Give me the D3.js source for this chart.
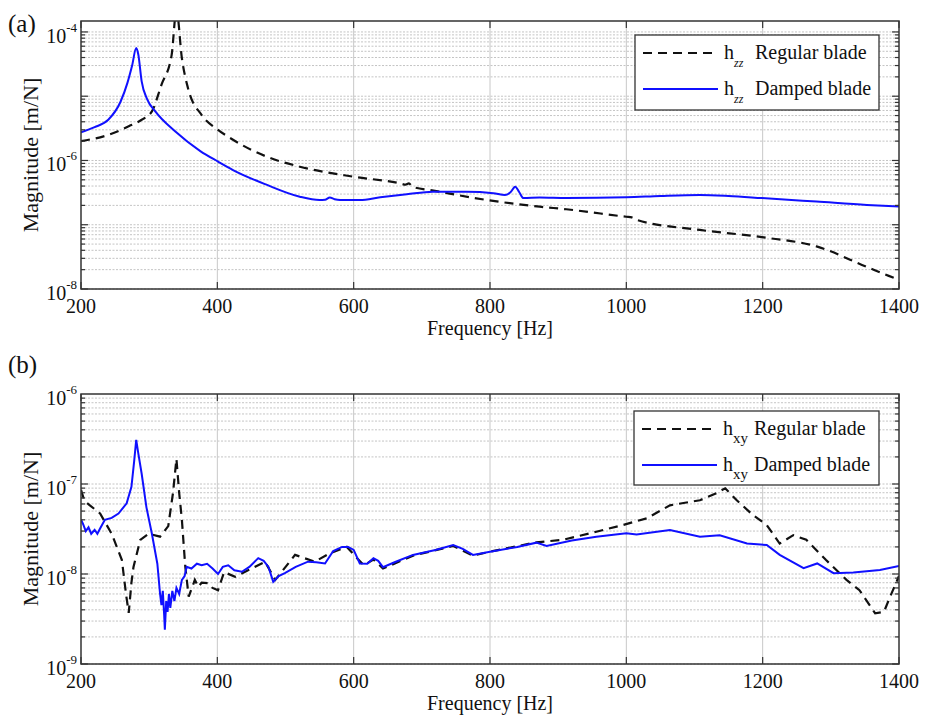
<!DOCTYPE html>
<html>
<head>
<meta charset="utf-8">
<script src="https://cdn.jsdelivr.net/npm/d3@7"></script>
<style>
  body { margin: 0; background: #fff; }
</style>
</head>
<body>
<svg width="925" height="719" font-family="'Liberation Serif', 'Times New Roman', 'DejaVu Serif', serif"></svg>
<script>
// x ticks shared by both panels
var freqTicks = [200, 400, 600, 800, 1000, 1200, 1400];

// (a) h_zz
var zzRegular = [[200,2.0e-6],[240,2.5e-6],[270,3.4e-6],[289,4.3e-6],[304,5.8e-6],[318,1.5e-5],[333,4.4e-5],[340,2.2e-4],[348,3.9e-5],[357,1.33e-5],[377,5.1e-6],[401,3.0e-6],[423,2.1e-6],[472,1.15e-6],[521,8.0e-7],[599,5.6e-7],[668,4.4e-7],[676,4.2e-7],[681,4.4e-7],[686,3.9e-7],[717,3.4e-7],[795,2.43e-7],[873,1.91e-7],[912,1.74e-7],[1000,1.33e-7],[1008,1.3e-7],[1015,1.19e-7],[1108,8.3e-8],[1199,6.4e-8],[1279,4.6e-8],[1353,2.2e-8],[1385,1.6e-8],[1400,1.4e-8]];
var zzDamped = [[200,2.75e-6],[220,3.3e-6],[240,4.3e-6],[258,8.2e-6],[268,1.6e-5],[275,3.0e-5],[281,5.6e-5],[284,4.5e-5],[289,1.7e-5],[297,9e-6],[309,5.8e-6],[338,2.84e-6],[375,1.4e-6],[401,9.6e-7],[423,7.1e-7],[472,4.2e-7],[521,2.73e-7],[550,2.43e-7],[558,2.45e-7],[565,2.65e-7],[572,2.5e-7],[580,2.43e-7],[609,2.43e-7],[639,2.67e-7],[678,2.98e-7],[716,3.27e-7],[766,3.27e-7],[805,3.1e-7],[822,2.9e-7],[830,3.2e-7],[837,3.9e-7],[843,3.2e-7],[849,2.6e-7],[873,2.65e-7],[912,2.6e-7],[1000,2.67e-7],[1050,2.8e-7],[1108,2.9e-7],[1150,2.8e-7],[1199,2.6e-7],[1279,2.29e-7],[1353,2.03e-7],[1400,1.92e-7]];
var zzExpTicks = [-4, -6, -8];

// (b) h_xy
var xyRegular = [[200,8.6e-8],[205,6.5e-8],[213,5.8e-8],[228,4.7e-8],[245,2.8e-8],[260,1.43e-8],[266,6e-9],[270,3.7e-9],[274,8e-9],[277,1.2e-8],[287,2.4e-8],[299,2.8e-8],[316,2.6e-8],[328,3.4e-8],[335,8e-8],[340,1.9e-7],[344,8e-8],[348,4e-8],[353,1.2e-8],[358,5.6e-9],[367,8.6e-9],[372,7.2e-9],[377,8.0e-9],[387,7.9e-9],[393,7.0e-9],[401,6.6e-9],[410,1.05e-8],[426,9.3e-9],[445,1.1e-8],[470,1.37e-8],[485,8.6e-9],[514,1.63e-8],[543,1.37e-8],[565,1.7e-8],[590,2.0e-8],[605,1.5e-8],[615,1.25e-8],[629,1.45e-8],[643,1.15e-8],[687,1.6e-8],[746,2.05e-8],[775,1.6e-8],[800,1.77e-8],[868,2.25e-8],[907,2.4e-8],[956,2.95e-8],[995,3.5e-8],[1030,4.16e-8],[1064,5.8e-8],[1108,6.6e-8],[1132,7.9e-8],[1145,8.95e-8],[1162,6.6e-8],[1186,4.5e-8],[1206,3.5e-8],[1225,2.18e-8],[1245,2.7e-8],[1264,2.4e-8],[1293,1.43e-8],[1323,8.6e-9],[1342,6.6e-9],[1365,3.66e-9],[1378,3.8e-9],[1387,5.6e-9],[1400,9.5e-9]];
var xyDamped = [[200,4.0e-8],[203,3.6e-8],[207,3.0e-8],[211,3.3e-8],[215,2.8e-8],[220,3.1e-8],[224,2.8e-8],[228,3.2e-8],[235,4.0e-8],[245,4.2e-8],[255,4.7e-8],[267,6.1e-8],[274,9.3e-8],[278,1.8e-7],[281,3.1e-7],[284,2.2e-7],[289,1.3e-7],[296,5.5e-8],[304,2.8e-8],[312,1.3e-8],[316,6.0e-9],[318,4.5e-9],[320,6.5e-9],[322,3.5e-9],[323,2.4e-9],[325,5.0e-9],[327,3.8e-9],[329,6.0e-9],[331,4.2e-9],[334,6.5e-9],[337,5.0e-9],[340,7.0e-9],[344,6.0e-9],[348,8.6e-9],[352,9.5e-9],[355,1.2e-8],[362,1.15e-8],[370,1.3e-8],[377,1.25e-8],[385,1.3e-8],[393,1.15e-8],[401,1.0e-8],[408,1.2e-8],[416,1.25e-8],[425,1.1e-8],[436,1.06e-8],[447,1.2e-8],[460,1.5e-8],[468,1.4e-8],[475,1.2e-8],[482,8.2e-9],[490,9.5e-9],[499,1.02e-8],[515,1.2e-8],[533,1.37e-8],[545,1.35e-8],[558,1.31e-8],[570,1.8e-8],[583,2.0e-8],[592,2.0e-8],[600,1.85e-8],[609,1.31e-8],[620,1.3e-8],[629,1.5e-8],[636,1.4e-8],[643,1.19e-8],[660,1.35e-8],[687,1.63e-8],[720,1.85e-8],[746,2.1e-8],[760,1.9e-8],[775,1.63e-8],[800,1.77e-8],[840,2.0e-8],[868,2.23e-8],[883,2.05e-8],[920,2.35e-8],[956,2.6e-8],[1000,2.83e-8],[1015,2.75e-8],[1064,3.08e-8],[1108,2.6e-8],[1137,2.7e-8],[1177,2.18e-8],[1206,2.1e-8],[1225,1.63e-8],[1260,1.16e-8],[1280,1.31e-8],[1304,1.02e-8],[1333,1.04e-8],[1372,1.11e-8],[1400,1.23e-8]];
var xyExpTicks = [-6, -7, -8, -9];

var svg = d3.select("svg");

var left = 81, right = 899;

panel({id: "a", tag: "(a)", tagY: 32, top: 21, bottom: 289, ydom: [1e-8, 1.48e-4],
       labels: zzExpTicks, regular: zzRegular, damped: zzDamped, sub: "zz", smooth: true,
       legend: {x: 635, y: 35, w: 244, h: 75}});
panel({id: "b", tag: "(b)", tagY: 373, top: 394, bottom: 664, ydom: [1e-9, 1e-6],
       labels: xyExpTicks, regular: xyRegular, damped: xyDamped, sub: "xy", smooth: false,
       legend: {x: 634, y: 411, w: 245, h: 74}});

function panel(p) {
    var x = d3.scaleLinear().domain([200, 1400]).range([left, right]),
        y = d3.scaleLog().domain(p.ydom).range([p.bottom, p.top]);

    var g = svg.append("g");

    svg.append("clipPath").attr("id", "clip-" + p.id)
        .append("rect")
        .attr("x", left).attr("y", p.top)
        .attr("width", right - left).attr("height", p.bottom - p.top);

    // minor values of the log axis: 1..9 x 10^e
    var lo = Math.floor(Math.log10(p.ydom[0])), hi = Math.ceil(Math.log10(p.ydom[1])),
        minor = [];
    for (var e = lo; e < hi; e++)
        for (var k = 1; k < 10; k++) {
            var v = k * Math.pow(10, e);
            if (v >= p.ydom[0] && v <= p.ydom[1]) minor.push(v);
        }

    // grid
    g.append("g").selectAll("line").data(minor).join("line")
        .attr("x1", left).attr("x2", right)
        .attr("y1", d => y(d)).attr("y2", d => y(d))
        .attr("stroke", "#c4c4c4").attr("stroke-width", 1)
        .attr("stroke-dasharray", "2,1.5");
    g.append("g").selectAll("line").data(freqTicks.slice(1, -1)).join("line")
        .attr("x1", d => x(d)).attr("x2", d => x(d))
        .attr("y1", p.top).attr("y2", p.bottom)
        .attr("stroke", "#c8c8c8").attr("stroke-width", 1);

    // curves
    var line = d3.line().x(d => x(d[0])).y(d => y(d[1]))
        .curve(p.smooth ? d3.curveMonotoneX : d3.curveLinear);
    var curves = g.append("g").attr("clip-path", "url(#clip-" + p.id + ")");
    curves.append("path").datum(p.regular)
        .attr("d", line).attr("fill", "none")
        .attr("stroke", "#111").attr("stroke-width", 2.2)
        .attr("stroke-dasharray", "9,6");
    curves.append("path").datum(p.damped)
        .attr("d", line).attr("fill", "none")
        .attr("stroke", "#1010ff").attr("stroke-width", 2);

    // ticks on all four sides, pointing in
    var tk = g.append("g").attr("stroke", "#333").attr("stroke-width", 1.2);
    freqTicks.forEach(function(f) {
        tk.append("line").attr("x1", x(f)).attr("x2", x(f)).attr("y1", p.bottom).attr("y2", p.bottom - 7);
        tk.append("line").attr("x1", x(f)).attr("x2", x(f)).attr("y1", p.top).attr("y2", p.top + 7);
    });
    minor.forEach(function(v) {
        var len = Math.abs(Math.log10(v) - Math.round(Math.log10(v))) < 1e-9 ? 7 : 4;
        tk.append("line").attr("x1", left).attr("x2", left + len).attr("y1", y(v)).attr("y2", y(v));
        tk.append("line").attr("x1", right).attr("x2", right - len).attr("y1", y(v)).attr("y2", y(v));
    });

    // frame
    g.append("rect")
        .attr("x", left).attr("y", p.top)
        .attr("width", right - left).attr("height", p.bottom - p.top)
        .attr("fill", "none").attr("stroke", "#333").attr("stroke-width", 1.5);

    // tick labels
    g.append("g").selectAll("text").data(freqTicks).join("text")
        .attr("x", d => x(d)).attr("y", p.bottom + 24)
        .attr("text-anchor", "middle").attr("font-size", 20).attr("fill", "#111")
        .text(d => d);
    var yl = g.append("g").selectAll("text").data(p.labels).join("text")
        .attr("x", 77).attr("y", d => y(Math.pow(10, d)) + 11)
        .attr("text-anchor", "end").attr("font-size", 20).attr("fill", "#111");
    yl.append("tspan").text("10");
    yl.append("tspan").attr("dy", -11).attr("font-size", 13).text(d => "-" + Math.abs(d));

    g.append("text")
        .attr("x", (left + right) / 2).attr("y", p.bottom + 46)
        .attr("text-anchor", "middle").attr("font-size", 20).attr("fill", "#111")
        .text("Frequency [Hz]");
    g.append("text")
        .attr("transform", "translate(38," + (p.top + p.bottom) / 2 + ") rotate(-90)")
        .attr("text-anchor", "middle").attr("font-size", 22).attr("fill", "#111")
        .text("Magnitude [m/N]");
    g.append("text")
        .attr("x", 8).attr("y", p.tagY)
        .attr("font-size", 25).attr("fill", "#111")
        .text(p.tag);

    // legend
    var L = p.legend;
    var lg = g.append("g").attr("transform", "translate(" + L.x + "," + L.y + ")");
    lg.append("rect").attr("width", L.w).attr("height", L.h)
        .attr("fill", "#fff").attr("stroke", "#333").attr("stroke-width", 1.3);
    var rows = [{name: "Regular blade", dash: "9,6", color: "#111", dy: 18},
                {name: "Damped blade", dash: null, color: "#1010ff", dy: 54}];
    rows.forEach(function(r) {
        lg.append("line").attr("x1", 8).attr("x2", 83).attr("y1", r.dy).attr("y2", r.dy)
            .attr("stroke", r.color).attr("stroke-width", 2.2)
            .attr("stroke-dasharray", r.dash);
        var t = lg.append("text").attr("x", 89).attr("y", r.dy + 6).attr("font-size", 20).attr("fill", "#111");
        t.append("tspan").text("h");
        t.append("tspan").attr("dy", 8).attr("font-size", p.sub == "xy" ? 15 : 12)
            .attr("font-style", p.sub == "xy" ? null : "italic").text(p.sub);
        lg.append("text").attr("x", 120).attr("y", r.dy + 6).attr("font-size", 20).attr("fill", "#111").text(r.name);
    });
}
</script>
</body>
</html>
